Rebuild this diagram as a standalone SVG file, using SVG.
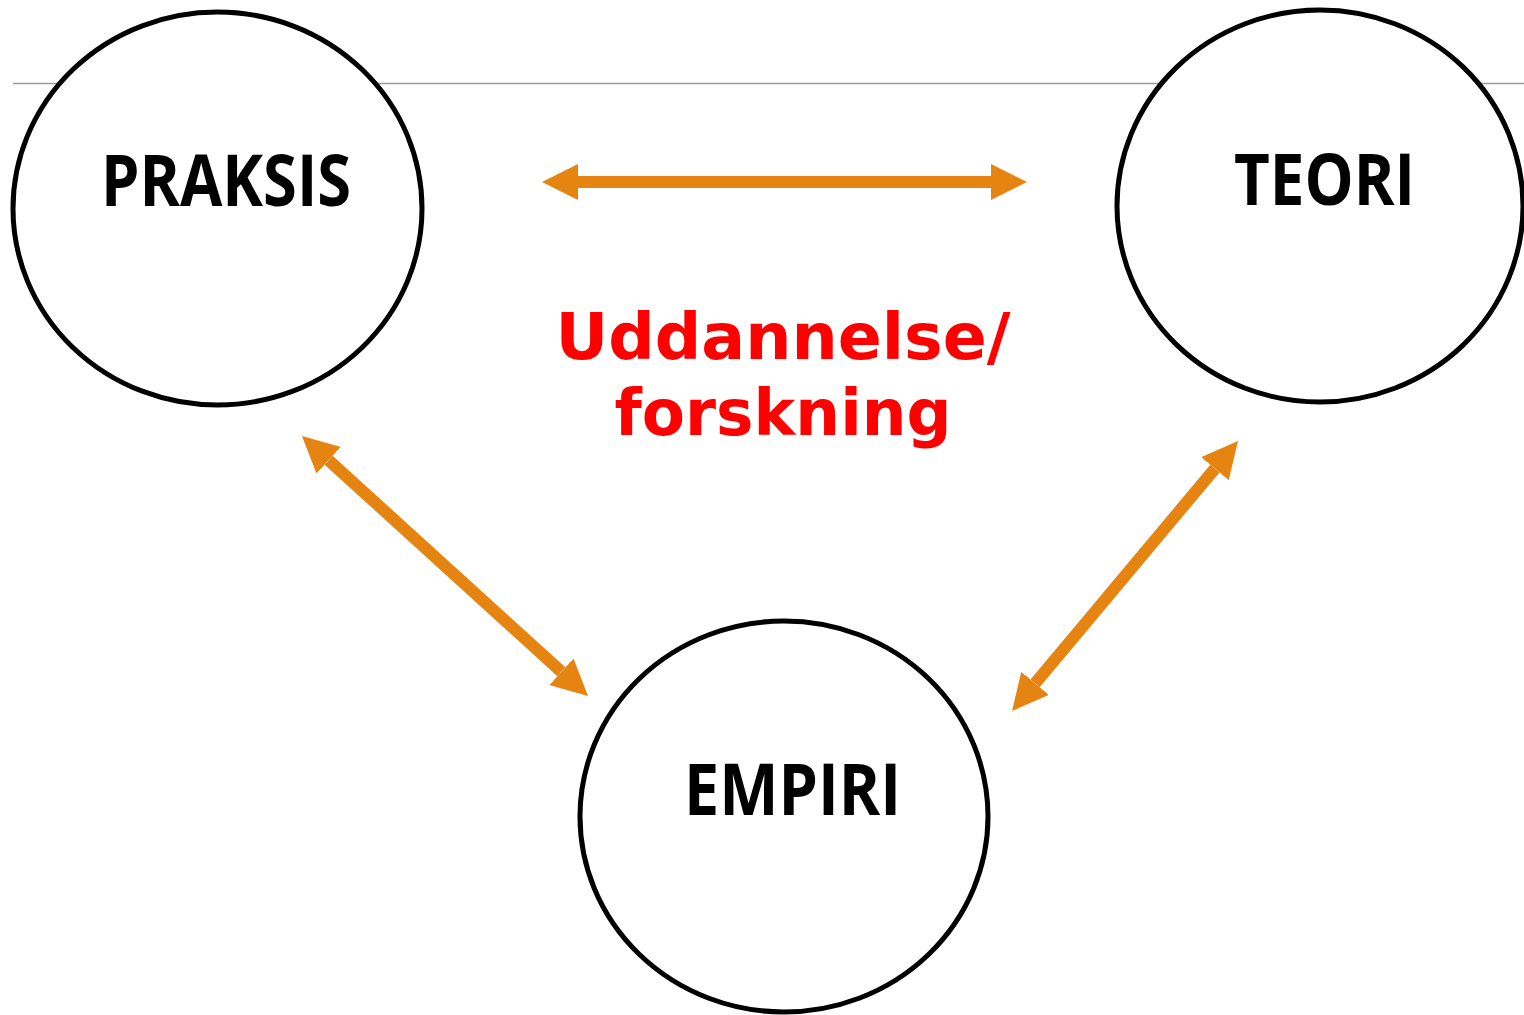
<svg xmlns="http://www.w3.org/2000/svg" width="1524" height="1015" viewBox="0 0 1524 1015">
  <style>
    .node { fill: #ffffff; stroke: #000000; stroke-width: 5; }
    .label { font-family: "Open Sans", "Noto Sans", "Liberation Sans", sans-serif; font-weight: 700; font-size: 72px; fill: #000000; }
    .conn { stroke: #E68412; stroke-width: 12; fill: none; marker-start: url(#head); marker-end: url(#head); }
    .red { font-family: "DejaVu Sans", Verdana, sans-serif; font-weight: 700; font-size: 64px; fill: #FF0000; text-anchor: middle; }
  </style>
  <defs>
    <marker id="head" viewBox="0 0 36 36" markerWidth="36" markerHeight="36" markerUnits="userSpaceOnUse" refX="0" refY="18" orient="auto-start-reverse">
      <path d="M0,0 L36,18 L0,36 z" fill="#E68412"/>
    </marker>
  </defs>
  <rect width="1524" height="1015" fill="#ffffff"/>
  <line x1="13" y1="83.5" x2="1524" y2="83.5" stroke="#9a9a9a" stroke-width="1.5"/>
  <g id="node-praksis">
    <ellipse class="node" cx="217.5" cy="208.5" rx="204.5" ry="196.5"/>
    <text class="label" x="101" y="206" textLength="250" lengthAdjust="spacingAndGlyphs">PRAKSIS</text>
  </g>
  <g id="node-teori">
    <ellipse class="node" cx="1320" cy="206" rx="203" ry="196"/>
    <text class="label" x="1234" y="205" textLength="181" lengthAdjust="spacingAndGlyphs">TEORI</text>
  </g>
  <g id="node-empiri">
    <ellipse class="node" cx="784" cy="816.5" rx="204" ry="195.5"/>
    <text class="label" x="684" y="815" textLength="217" lengthAdjust="spacingAndGlyphs">EMPIRI</text>
  </g>
  <g id="label-uddannelse">
    <text class="red" x="783" y="359" textLength="455" lengthAdjust="spacingAndGlyphs">Uddannelse/</text>
    <text class="red" x="783" y="435" textLength="337" lengthAdjust="spacingAndGlyphs">forskning</text>
  </g>
  <g id="connectors">
    <line class="conn" x1="578" y1="182" x2="991" y2="182"/>
    <line class="conn" x1="328.6" y1="460.2" x2="561.4" y2="671.8"/>
    <line class="conn" x1="1214.9" y1="468.6" x2="1035.1" y2="683.4"/>
  </g>
</svg>
